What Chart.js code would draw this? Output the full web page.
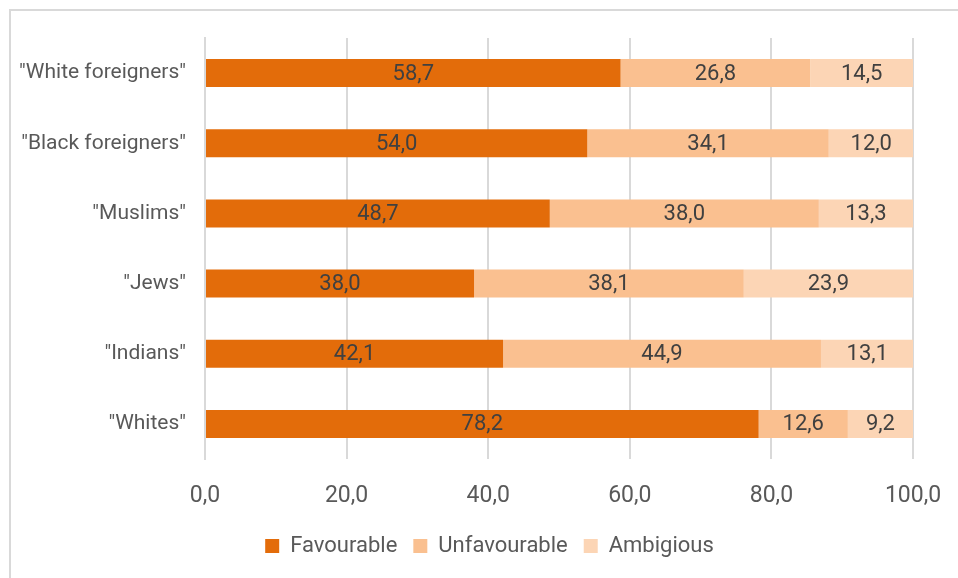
<!DOCTYPE html>
<html>
<head>
<meta charset="utf-8">
<script src="https://cdn.jsdelivr.net/npm/chart.js@4/dist/chart.umd.min.js"></script>
<style>
    html, body { margin: 0; padding: 0; background: #fff; overflow: hidden; }
    .frame {
        position: absolute; left: 9px; top: 9px; width: 980px; height: 600px;
        border-left: 2px solid #d9d9d9; border-top: 2px solid #d9d9d9;
    }
    .wrap { position: absolute; left: 0; top: 0; width: 958px; height: 578px; }
</style>
</head>
<body>
<div class="frame"></div>
<div class="wrap"><canvas id="chart"></canvas></div>
<script>
const categories = ['"White foreigners"', '"Black foreigners"', '"Muslims"', '"Jews"', '"Indians"', '"Whites"'];
const favourable = [58.7, 54.0, 48.7, 38.0, 42.1, 78.2];
const unfavourable = [26.8, 34.1, 38.0, 38.1, 44.9, 12.6];
const ambigious = [14.5, 12.0, 13.3, 23.9, 13.1, 9.2];
const xTicks = [0, 20, 40, 60, 80, 100];

const FONT = "Roboto, 'Liberation Sans', sans-serif";
const fmt = v => v.toFixed(1).replace('.', ',');

// centred value labels in each bar segment
const segmentLabels = {
    id: 'segmentLabels',
    afterDatasetsDraw(chart) {
        const ctx = chart.ctx;
        ctx.save();
        ctx.font = '22px ' + FONT;
        ctx.fillStyle = '#404040';
        ctx.textAlign = 'center';
        ctx.textBaseline = 'middle';
        chart.data.datasets.forEach((ds, di) => {
            chart.getDatasetMeta(di).data.forEach((bar, i) => {
                const p = bar.getProps(['x', 'y', 'base'], true);
                ctx.fillText(fmt(ds.data[i]), (p.x + p.base) / 2, p.y + 1);
            });
        });
        ctx.restore();
    }
};

// legend sits centred under the plot, not under the whole canvas
const legendShift = {
    id: 'legendShift',
    afterLayout(chart) {
        if (!chart.legend) return;
        chart.legend.left += 33;
        chart.legend.right += 33;
    }
};

new Chart(document.getElementById('chart'), {
    type: 'bar',
    data: {
        labels: categories,
        datasets: [
            { label: 'Favourable', data: favourable, backgroundColor: '#E36C0A' },
            { label: 'Unfavourable', data: unfavourable, backgroundColor: '#FAC090' },
            { label: 'Ambigious', data: ambigious, backgroundColor: '#FCD5B5' },
        ],
    },
    options: {
        indexAxis: 'y',
        responsive: true,
        maintainAspectRatio: false,
        animation: false,
        datasets: { bar: { barPercentage: 0.5, categoryPercentage: 0.8, borderWidth: 0 } },
        layout: { padding: { left: 0, right: 45, top: 38, bottom: 11 } },
        plugins: {
            legend: {
                position: 'bottom',
                labels: {
                    color: '#595959',
                    font: { family: FONT, size: 22 },
                    boxWidth: 14,
                    boxHeight: 14,
                    padding: 16,
                },
            },
            tooltip: { enabled: false },
        },
        scales: {
            x: {
                stacked: true,
                min: 0,
                max: 100,
                afterBuildTicks: s => { s.ticks = xTicks.map(v => ({ value: v })); },
                afterFit: s => {
                    s.height = 60;
                    s.paddingLeft = 0;
                    s.paddingRight = 0;
                },
                grid: { color: '#d9d9d9', lineWidth: 2, drawTicks: false },
                border: { display: false },
                ticks: {
                    color: '#595959',
                    font: { family: FONT, size: 23 },
                    padding: 23,
                    maxRotation: 0,
                    callback: v => fmt(v),
                },
            },
            y: {
                stacked: true,
                afterFit: s => { s.width = 205; },
                grid: { display: false, drawTicks: false },
                border: { color: '#d9d9d9', width: 2 },
                ticks: {
                    color: '#595959',
                    font: { family: FONT, size: 21 },
                    padding: 19,
                },
            },
        },
    },
    plugins: [segmentLabels, legendShift],
});
</script>
</body>
</html>
